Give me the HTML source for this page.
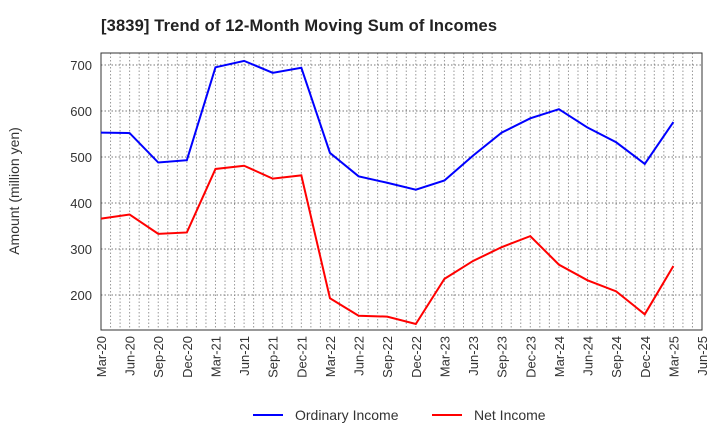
<!DOCTYPE html>
<html><head><meta charset="utf-8"><style>
body{margin:0;background:#fff;font-family:"Liberation Sans",sans-serif}
</style></head><body>
<svg id="c" width="720" height="440" xmlns="http://www.w3.org/2000/svg" font-family="Liberation Sans, sans-serif">
<text x="101" y="31" font-size="16.5" font-weight="bold" fill="#222" textLength="396">[3839]  Trend of 12-Month Moving Sum of Incomes</text>
<text transform="translate(19,191) rotate(-90)" text-anchor="middle" font-size="14" fill="#333">Amount (million yen)</text>
<g id="grid"></g><g id="axes"></g><g id="series"></g>
<g>
<line x1="253" y1="415" x2="283" y2="415" stroke="#0000ff" stroke-width="2"/>
<text x="295" y="420" font-size="14" fill="#333">Ordinary Income</text>
<line x1="432" y1="415" x2="462" y2="415" stroke="#ff0000" stroke-width="2"/>
<text x="474" y="420" font-size="14" fill="#333">Net Income</text>
</g>
</svg>
<script>
const categories=["Mar-20","Jun-20","Sep-20","Dec-20","Mar-21","Jun-21","Sep-21","Dec-21","Mar-22","Jun-22","Sep-22","Dec-22","Mar-23","Jun-23","Sep-23","Dec-23","Mar-24","Jun-24","Sep-24","Dec-24","Mar-25","Jun-25"];
const ordinaryIncome=[553,552,488,493,695,709,683,694,509,458,444,429,449,503,553,584,604,564,532,485,576];
const netIncome=[366,375,333,336,474,481,453,460,193,155,153,137,235,274,304,328,266,232,208,158,263];
const yTicks=[200,300,400,500,600,700];
const NS="http://www.w3.org/2000/svg";
const L=101,R=702,T=53,B=330;
const xs=i=>L+(R-L)*i/(categories.length-1);
const ys=v=>65+(700-v)*0.46;
function mk(tag,attrs,parent){const e=document.createElementNS(NS,tag);for(const k in attrs)e.setAttribute(k,attrs[k]);parent.appendChild(e);return e;}
const grid=document.getElementById('grid'),axes=document.getElementById('axes'),ser=document.getElementById('series');
const nMonths=(categories.length-1)*3;
for(let m=1;m<nMonths;m++){const x=L+(R-L)*m/nMonths;
const g=mk('line',{x1:x,x2:x,y1:T,y2:B,stroke:'#999','stroke-dasharray':'1.5,2','stroke-width':1},grid);
}
yTicks.forEach(v=>{const y=ys(v);
const g=mk('line',{x1:L,x2:R,y1:y,y2:y,stroke:'#777','stroke-dasharray':'1.5,2','stroke-width':1},grid);

const t=mk('text',{x:L-9,y:y+5,'text-anchor':'end','font-size':13,fill:'#333'},axes);t.textContent=v;
});
const fr=mk('rect',{x:L,y:T,width:R-L,height:B-T,fill:'none',stroke:'#333','stroke-width':1},axes);

categories.forEach((c,i)=>{const x=xs(i);
const t=mk('text',{transform:`translate(${x+5},${B+6}) rotate(-90)`,'text-anchor':'end','font-size':13,fill:'#333'},axes);t.textContent=c;
});
function line(data,color,name){const p=mk('polyline',{points:data.map((v,i)=>xs(i)+','+ys(v)).join(' '),fill:'none',stroke:color,'stroke-width':2},ser);
}
line(ordinaryIncome,'#0000ff','ordinary-income-line');
line(netIncome,'#ff0000','net-income-line');
</script>
</body></html>
